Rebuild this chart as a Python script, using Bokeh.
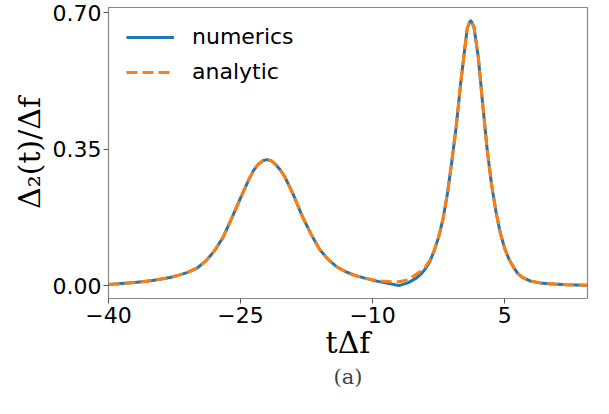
from bokeh.plotting import figure
from bokeh.models import FixedTicker, Title, Legend, LegendItem, Range1d
from bokeh.embed import file_html
from bokeh.resources import INLINE

# time axis (t * Delta_f), shared by both series
t_vals = [-40, -37, -35, -33, -32, -31, -30, -29, -28, -27, -26, -25, -24, -23.5, -23, -22.5,
          -22, -21.5, -21, -20.5, -20, -19, -18, -17, -16, -15, -14, -13, -12, -11, -10, -9,
          -8, -7, -6, -5, -4.5, -4, -3.5, -3, -2.5, -2, -1.5, -1, -0.5, 0, 0.5, 0.75, 1, 1.15,
          1.5, 2, 2.5, 3, 3.5, 4, 4.5, 5, 5.5, 6, 6.5, 7, 8, 9, 10, 12, 14.4]

# numerics series
d_num = [0.003, 0.008, 0.013, 0.021, 0.027, 0.034, 0.044, 0.062, 0.088, 0.123, 0.173, 0.225,
         0.275, 0.296, 0.311, 0.32, 0.323, 0.32, 0.31, 0.297, 0.28, 0.233, 0.178, 0.132,
         0.092, 0.066, 0.047, 0.035, 0.026, 0.02, 0.014, 0.009, 0.005, 0.0, 0.007, 0.02,
         0.03, 0.043, 0.062, 0.09, 0.125, 0.172, 0.237, 0.32, 0.41, 0.52, 0.615, 0.66, 0.675,
         0.679, 0.664, 0.585, 0.465, 0.35, 0.26, 0.19, 0.135, 0.095, 0.067, 0.047, 0.031,
         0.021, 0.011, 0.007, 0.005, 0.002, 0.001]

# analytic series
d_ana = [0.003, 0.008, 0.013, 0.021, 0.027, 0.034, 0.044, 0.062, 0.088, 0.123, 0.173, 0.225,
         0.275, 0.296, 0.311, 0.32, 0.323, 0.32, 0.31, 0.297, 0.28, 0.233, 0.178, 0.132,
         0.092, 0.066, 0.047, 0.035, 0.026, 0.02, 0.015, 0.012, 0.01, 0.01, 0.015, 0.03,
         0.038, 0.048, 0.065, 0.091, 0.125, 0.172, 0.237, 0.32, 0.41, 0.52, 0.615, 0.66, 0.675,
         0.679, 0.664, 0.585, 0.465, 0.35, 0.26, 0.19, 0.135, 0.095, 0.067, 0.047, 0.031,
         0.021, 0.011, 0.007, 0.005, 0.002, 0.001]

x_ticks = [-40, -25, -10, 5]
x_tick_labels = ["\u221240", "\u221225", "\u221210", "5"]
y_ticks = [0.0, 0.35, 0.70]
y_tick_labels = ["0.00", "0.35", "0.70"]

p = figure(width=600, height=388, output_backend="svg", toolbar_location=None,
           x_range=Range1d(-40, 14.4), y_range=Range1d(-0.033, 0.713),
           min_border_left=108, min_border_right=13, min_border_top=7, min_border_bottom=10)

r1 = p.line(t_vals, d_num, line_color="#1f77b4", line_width=3, line_join="round")
r2 = p.line(t_vals, d_ana, line_color="#ff7f0e", line_width=3, line_dash="11 5",
            line_join="round")

legend = Legend(items=[LegendItem(label="numerics", renderers=[r1]),
                       LegendItem(label="analytic", renderers=[r2])],
                location=(18, 214), border_line_color=None, background_fill_alpha=0,
                label_text_font="DejaVu Sans", label_text_font_size="22px",
                label_text_color="black",
                glyph_width=48, glyph_height=22, label_height=22, spacing=10, margin=0,
                padding=8, label_standoff=18)
p.add_layout(legend)

p.xgrid.visible = False
p.ygrid.visible = False
p.outline_line_color = "#888888"
p.outline_line_width = 1.2

p.xaxis.ticker = FixedTicker(ticks=x_ticks)
p.xaxis.major_label_overrides = dict(zip(x_ticks, x_tick_labels))
p.yaxis.ticker = FixedTicker(ticks=y_ticks)
p.yaxis.major_label_overrides = dict(zip(y_ticks, y_tick_labels))

for ax in (p.xaxis[0], p.yaxis[0]):
    ax.axis_line_color = None
    ax.major_tick_line_color = "#555555"
    ax.major_tick_out = 5
    ax.major_tick_in = 0
    ax.minor_tick_line_color = None
    ax.major_label_text_font = "DejaVu Sans"
    ax.major_label_text_font_size = "22px"
    ax.major_label_text_color = "black"
    ax.axis_label_text_font = "DejaVu Serif"
    ax.axis_label_text_font_style = "normal"
    ax.axis_label_text_font_size = "30px"
    ax.axis_label_text_color = "black"

p.xaxis.axis_label = "t\u0394f"
p.yaxis.axis_label = "\u0394\u2082(t)/\u0394f"
p.xaxis.axis_label_standoff = -1
p.yaxis.axis_label_standoff = 3
p.xaxis.major_label_standoff = 3
p.yaxis.major_label_standoff = 2

p.add_layout(Title(text="(a)", align="center", text_font="DejaVu Serif",
                   text_font_size="21px", text_font_style="normal",
                   standoff=0), "below")

open("out.html", "w").write(file_html(p, INLINE))
